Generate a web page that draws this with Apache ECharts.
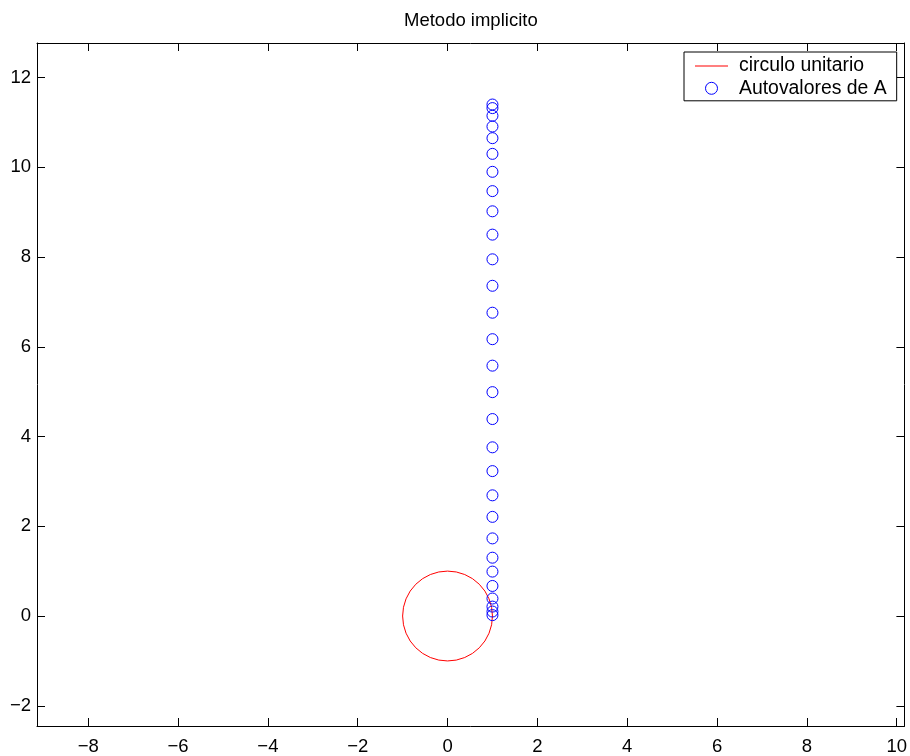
<!DOCTYPE html>
<html>
<head>
<meta charset="utf-8">
<script src="https://cdn.jsdelivr.net/npm/echarts@6/dist/echarts.min.js"></script>
<style>html,body{margin:0;padding:0;background:#fff}#c{width:910px;height:756px}</style>
</head>
<body>
<div id="c"></div>
<script>
// ---- data ----
const titleText = 'Metodo implicito';
const seriesNames = ['circulo unitario', 'Autovalores de A'];
const circleCenter = [0, 0];
const circleRadius = 1;
const eigReal = [1, 1, 1, 1, 1, 1, 1, 1, 1, 1, 1, 1, 1, 1, 1, 1, 1, 1, 1, 1, 1, 1, 1, 1, 1, 1, 1, 1, 1];
const eigImag = [11.40, 11.32, 11.15, 10.91, 10.65, 10.30, 9.90, 9.47, 9.02, 8.50, 7.95, 7.36, 6.76, 6.17, 5.58, 4.99, 4.39, 3.76, 3.23, 2.69, 2.21, 1.73, 1.30, 0.99, 0.67, 0.39, 0.21, 0.10, 0.02];
const xRange = [-9.14, 10.171];
const yRange = [-2.451, 12.771];

const FONT = 'Liberation Sans, Arial, Helvetica, sans-serif';
const fmt = v => (Math.abs(Math.round(v) - v) < 1e-6 && Math.round(v) % 2 === 0) ? String(Math.round(v)).replace('-', '\u2212') : '';

const chart = echarts.init(document.getElementById('c'), null, {renderer: 'canvas'});
const axisCommon = {
  axisLine: {show: true, onZero: false, lineStyle: {color: '#000', width: 1}},
  axisTick: {show: true, inside: true, length: 8, lineStyle: {color: '#000'}},
  splitLine: {show: false},
  splitNumber: 10
};
const scatterData = eigReal.map((x, i) => [x, eigImag[i]]);

chart.setOption({
  animation: false,
  backgroundColor: '#fff',
  textStyle: {fontFamily: FONT},
  title: {
    text: titleText, left: 404, top: 11, padding: 0,
    textStyle: {fontSize: 18.5, fontWeight: 'normal', color: '#000', fontFamily: FONT}
  },
  grid: {left: 37, right: 4, top: 43, bottom: 28, containLabel: false},
  xAxis: [
    Object.assign({}, axisCommon, {type: 'value', position: 'bottom', min: xRange[0], max: xRange[1],
      axisLabel: {show: true, formatter: fmt, fontSize: 18.5, color: '#000', margin: 11, fontFamily: FONT, hideOverlap: false}}),
    Object.assign({}, axisCommon, {type: 'value', position: 'top', min: xRange[0], max: xRange[1],
      axisLabel: {show: false}})
  ],
  yAxis: [
    Object.assign({}, axisCommon, {type: 'value', position: 'left', min: yRange[0], max: yRange[1], splitNumber: 8,
      axisLabel: {show: true, formatter: fmt, fontSize: 18.5, color: '#000', margin: 6, fontFamily: FONT, hideOverlap: false}}),
    Object.assign({}, axisCommon, {type: 'value', position: 'right', min: yRange[0], max: yRange[1], splitNumber: 8,
      axisLabel: {show: false}})
  ],
  legend: {
    orient: 'vertical', left: 684, top: 52, padding: [4.5, 10, 3, 11],
    itemWidth: 33, itemHeight: 12, itemGap: 3.3,
    borderColor: '#000', borderWidth: 1, backgroundColor: '#fff',
    textStyle: {fontSize: 19.4, color: '#000', fontFamily: FONT, lineHeight: 19, padding: [0, 0, 0, 6]},
    data: [
      {name: seriesNames[0], icon: 'path://M0,0L33,0L33,1L0,1Z', itemStyle: {color: '#ff0000', borderWidth: 0}},
      {name: seriesNames[1], itemStyle: {borderWidth: 1, color: 'rgba(0,0,0,0)', borderColor: '#0000ff'}}
    ],
    selectedMode: false
  },
  series: [
    {
      name: seriesNames[0], type: 'custom', xAxisIndex: 0, yAxisIndex: 0,
      data: [[circleCenter[0], circleCenter[1], circleRadius]],
      encode: {x: 0, y: 1},
      itemStyle: {color: '#ff0000'},
      renderItem: function (params, api) {
        const c = api.coord([api.value(0), api.value(1)]);
        const s = api.size([api.value(2), api.value(2)]);
        return {
          type: 'circle',
          shape: {cx: c[0], cy: c[1], r: s[0]},
          style: {fill: null, stroke: '#ff0000', lineWidth: 1}
        };
      },
      z: 2
    },
    {
      name: seriesNames[1], type: 'scatter', data: scatterData,
      symbol: 'circle', symbolSize: 11,
      itemStyle: {color: 'rgba(0,0,0,0)', borderColor: '#0000ff', borderWidth: 1, opacity: 1},
      z: 3
    }
  ]
});
</script>
</body>
</html>
